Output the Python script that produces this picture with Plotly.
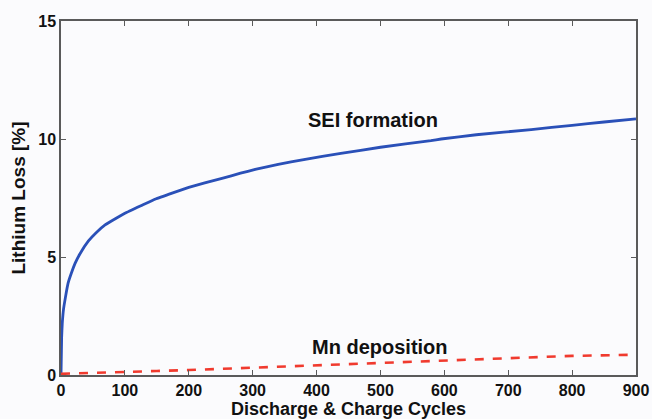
import plotly.graph_objects as go

cycles_sei = [0, 1, 2, 4, 7, 11, 16, 22, 30, 43, 55, 69, 85, 100, 125, 148, 175, 200, 225, 252, 281, 304, 340, 380, 438, 500, 579, 595, 650, 736, 800, 850, 900]
sei_loss = [0, 1.6, 2.2, 2.8, 3.3, 3.88, 4.3, 4.73, 5.15, 5.68, 6.03, 6.36, 6.62, 6.85, 7.17, 7.46, 7.72, 7.95, 8.14, 8.33, 8.55, 8.71, 8.92, 9.13, 9.39, 9.65, 9.93, 10.0, 10.18, 10.4, 10.58, 10.72, 10.85]

cycles_mn = [0, 50, 100, 150, 200, 250, 300, 350, 400, 468, 500, 600, 700, 800, 900]
mn_loss = [0.05, 0.08, 0.13, 0.17, 0.21, 0.26, 0.31, 0.37, 0.42, 0.49, 0.53, 0.64, 0.74, 0.81, 0.86]

x_ticks = [0, 100, 200, 300, 400, 500, 600, 700, 800, 900]
y_ticks = [0, 5, 10, 15]

FONT = "Arial, Liberation Sans, sans-serif"
BG = "#fbfbfd"

fig = go.Figure()
fig.add_trace(go.Scatter(x=cycles_sei, y=sei_loss, mode="lines", line=dict(color="#2a50b8", width=2.8, shape="spline", smoothing=0.3), showlegend=False))
fig.add_trace(go.Scatter(x=cycles_mn, y=mn_loss, mode="lines", line=dict(color="#f03a2e", width=2.6, dash="dash"), showlegend=False))

axis_common = dict(
    showgrid=False, zeroline=False, showline=True, linecolor="#5a5a5a", linewidth=1.5,
    mirror="ticks", ticks="inside", ticklen=5, tickcolor="#5a5a5a", tickwidth=1.2,
    tickfont=dict(family=FONT, size=16, color="#111111", weight="bold"),
    automargin=False,
)

fig.update_xaxes(range=[0, 900], tickvals=x_ticks, **axis_common,
                 title=dict(text="<b>Discharge &amp; Charge Cycles</b>", font=dict(family=FONT, size=18, color="#111111"), standoff=2))
fig.update_yaxes(range=[0, 15], tickvals=y_ticks, **axis_common,
                 title=dict(text="<b>Lithium Loss [%]</b>", font=dict(family=FONT, size=19, color="#111111"), standoff=8))

fig.add_annotation(x=488, y=10.8, text="<b>SEI formation</b>", showarrow=False, xanchor="center",
                   font=dict(family=FONT, size=20, color="#111111"))
fig.add_annotation(x=500, y=1.19, text="<b>Mn deposition</b>", showarrow=False, xanchor="center",
                   font=dict(family=FONT, size=20, color="#111111"))

fig.update_layout(
    width=652, height=419, margin=dict(l=61, r=16, t=21, b=44),
    paper_bgcolor=BG, plot_bgcolor=BG,
)

fig.write_html("out.html")
